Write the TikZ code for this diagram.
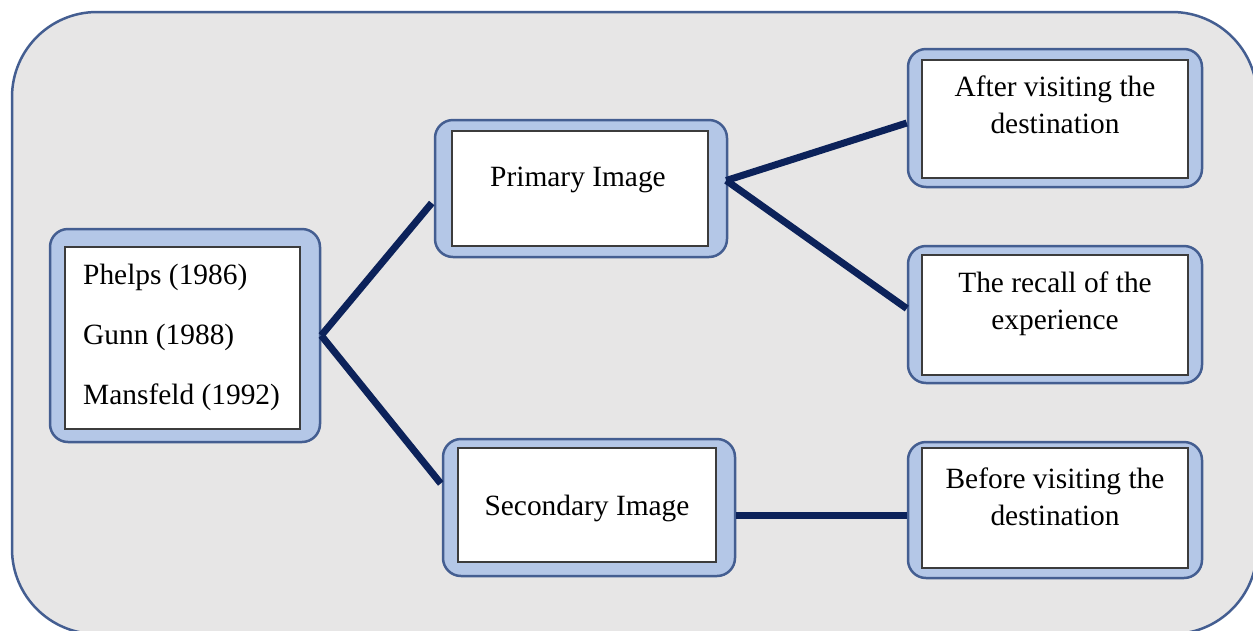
\documentclass[tikz,border=0pt]{standalone}
\usepackage{fontspec}
\setmainfont{Liberation Serif}
\usetikzlibrary{calc}
\definecolor{bggray}{RGB}{231,230,230}
\definecolor{frameblue}{RGB}{68,94,145}
\definecolor{boxblue}{RGB}{180,199,231}
\definecolor{navy}{RGB}{12,34,90}
\definecolor{innerline}{RGB}{60,60,60}
\tikzset{
  outerbox/.style={draw=frameblue, line width=2.5pt, fill=boxblue, rounded corners=18pt, inner sep=0pt},
  innerbox/.style={draw=innerline, line width=1.5pt, fill=white, inner sep=0pt},
  label/.style={font=\fontsize{29.4}{37}\selectfont, align=center, inner sep=0pt, text=black},
  link/.style={draw=navy, line width=7pt}
}
\begin{document}
\begin{tikzpicture}[x=1pt, y=-1pt]
\fill[white] (0,0) rectangle (1253,630);
\useasboundingbox (0,0) rectangle (1253,630);
\draw[draw=frameblue, line width=2.5pt, fill=bggray, rounded corners=85pt] (12,12) rectangle (1257,634);

% left box
\node[outerbox, minimum width=270pt, minimum height=213pt] (L) at (185,335.5) {};
\node[innerbox, minimum width=235pt, minimum height=182pt] (Li) at (182.5,338) {};
\node[label, font=\fontsize{29.4}{60}\selectfont, align=left, anchor=west] (Lt) at (83,337) {Phelps (1986)\\Gunn (1988)\\Mansfeld (1992)};

% primary
\node[outerbox, minimum width=292pt, minimum height=137pt] (P) at (581,188.5) {};
\node[innerbox, minimum width=256pt, minimum height=115pt] (Pi) at (580,188.5) {};
\node[label] (Pt) at (578,180) {Primary Image};

% secondary
\node[outerbox, minimum width=292pt, minimum height=137pt] (S) at (589,507.5) {};
\node[innerbox, minimum width=258pt, minimum height=114pt] (Si) at (587,505) {};
\node[label] (St) at (587,508) {Secondary Image};

% after
\node[outerbox, minimum width=294pt, minimum height=138pt] (A) at (1055,118) {};
\node[innerbox, minimum width=266pt, minimum height=118pt] (Ai) at (1055,119) {};
\node[label] (At) at (1055,105) {After visiting the\\destination};

% recall
\node[outerbox, minimum width=294pt, minimum height=137pt] (R) at (1055,314.5) {};
\node[innerbox, minimum width=266pt, minimum height=120pt] (Ri) at (1055,315) {};
\node[label] (Rt) at (1055,304) {The recall of the\\experience};

% before
\node[outerbox, minimum width=294pt, minimum height=136pt] (B) at (1055,510) {};
\node[innerbox, minimum width=266pt, minimum height=120pt] (Bi) at (1055,508) {};
\node[label] (Bt) at (1055,497) {Before visiting the\\destination};

% connectors
\draw[link] (L.east) -- ($(P.west)+(-2,14.5)$);
\draw[link] (L.east) -- ($(S.west)+(-1,-24)$);
\draw[link] ($(P.east)+(-2,-8)$) -- ($(A.west)+(0,5)$);
\draw[link] ($(P.east)+(-2,-8)$) -- ($(R.west)+(0,-6)$);
\draw[link] ($(S.east)+(0,7.5)$) -- ($(B.west)+(0,5)$);
\end{tikzpicture}
\end{document}
